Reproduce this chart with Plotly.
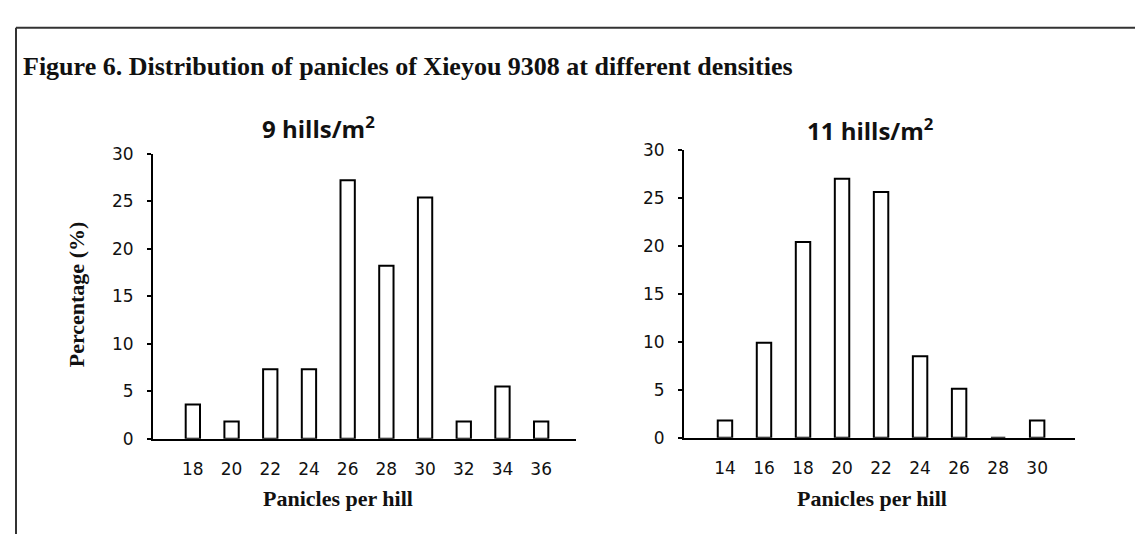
import plotly.graph_objects as go

W, H = 1143, 536

title_text = "Figure 6. Distribution of panicles of Xieyou 9308 at different densities"
sub_left = "9 hills/m<sup>2</sup>"
sub_right = "11 hills/m<sup>2</sup>"
ylabel = "Percentage (%)"
xlabel = "Panicles per hill"

cats_9 = ["18", "20", "22", "24", "26", "28", "30", "32", "34", "36"]
pct_9 = [3.6, 1.8, 7.3, 7.3, 27.2, 18.2, 25.4, 1.8, 5.5, 1.8]

cats_11 = ["14", "16", "18", "20", "22", "24", "26", "28", "30"]
pct_11 = [1.8, 9.9, 20.4, 27.0, 25.6, 8.5, 5.1, 0, 1.8]

y_ticks = [0, 5, 10, 15, 20, 25, 30]


def px_x(p):
    return p / W


def px_y(p):
    return 1 - p / H


fig = go.Figure()

bar_style = dict(marker=dict(color="white", line=dict(color="black", width=2)),
                 width=0.37, showlegend=False, hoverinfo="x+y")

fig.add_trace(go.Bar(x=cats_9, y=pct_9, xaxis="x", yaxis="y", **bar_style))
fig.add_trace(go.Bar(x=cats_11, y=pct_11, xaxis="x2", yaxis="y2", **bar_style))

tick_font = dict(family="DejaVu Sans", size=17, color="#111")

common_x = dict(type="category", showline=True, linewidth=2, linecolor="black",
                ticks="", showgrid=False, zeroline=False, tickfont=tick_font,
                ticklabelstandoff=14, fixedrange=True)
common_y = dict(range=[0, 30], tickvals=y_ticks, showline=True, linewidth=2,
                linecolor="black", ticks="outside", ticklen=4, tickwidth=2,
                tickcolor="black", showgrid=False, zeroline=False,
                tickfont=tick_font, ticklabelstandoff=10, fixedrange=True)

fig.update_layout(
    width=W, height=H,
    margin=dict(l=0, r=0, t=0, b=0),
    paper_bgcolor="white", plot_bgcolor="white",
    xaxis=dict(domain=[px_x(145), px_x(568)], range=[-1.03, 9.9], anchor="y", **common_x),
    yaxis=dict(domain=[px_y(437), px_y(141)], anchor="x", **common_y),
    xaxis2=dict(domain=[px_x(676), px_x(1067)], range=[-1.05, 8.97], anchor="y2", **common_x),
    yaxis2=dict(domain=[px_y(436), px_y(137)], anchor="x2", **common_y),
    bargap=0.6,
)

# frame lines (top and left)
fig.add_shape(type="line", xref="paper", yref="paper",
              x0=px_x(8), x1=1.0, y0=px_y(10), y1=px_y(10),
              line=dict(color="#333", width=2))
fig.add_shape(type="line", xref="paper", yref="paper",
              x0=px_x(8), x1=px_x(8), y0=px_y(10), y1=0,
              line=dict(color="#333", width=2))

serif = "Liberation Serif"
sans = "Open Sans"

fig.add_annotation(text="<b>" + title_text + "</b>", xref="paper", yref="paper",
                   x=px_x(13), y=px_y(50), xanchor="left", yanchor="middle",
                   showarrow=False, font=dict(family=serif, size=26, color="#111"))
fig.add_annotation(text="<b>" + sub_left + "</b>", xref="paper", yref="paper",
                   x=px_x(310), y=px_y(114), xanchor="center", yanchor="middle",
                   showarrow=False, font=dict(family=sans, size=24, color="#111"))
fig.add_annotation(text="<b>" + sub_right + "</b>", xref="paper", yref="paper",
                   x=px_x(862), y=px_y(116), xanchor="center", yanchor="middle",
                   showarrow=False, font=dict(family=sans, size=24, color="#111"))
fig.add_annotation(text="<b>" + ylabel + "</b>", xref="paper", yref="paper",
                   x=px_x(68), y=px_y(287), xanchor="center", yanchor="middle",
                   textangle=-90, showarrow=False,
                   font=dict(family=serif, size=22, color="#111"))
fig.add_annotation(text="<b>" + xlabel + "</b>", xref="paper", yref="paper",
                   x=px_x(330), y=px_y(499), xanchor="center", yanchor="middle",
                   showarrow=False, font=dict(family=serif, size=22, color="#111"))
fig.add_annotation(text="<b>" + xlabel + "</b>", xref="paper", yref="paper",
                   x=px_x(864), y=px_y(499), xanchor="center", yanchor="middle",
                   showarrow=False, font=dict(family=serif, size=22, color="#111"))

fig.write_html("out.html")
